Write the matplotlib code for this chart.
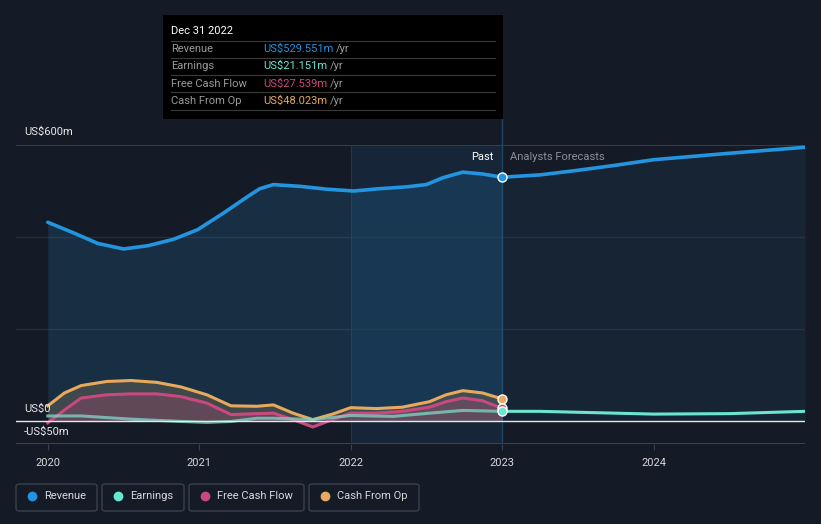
import numpy as np
import matplotlib.pyplot as plt
from matplotlib.patches import FancyBboxPatch, Rectangle
from matplotlib.lines import Line2D

plt.rcParams['font.family'] = ['Roboto', 'DejaVu Sans']

# values (US$m)
revenue_years = np.array([2020.0, 2020.17, 2020.33, 2020.5, 2020.66, 2020.83, 2020.99, 2021.16,
                          2021.32, 2021.4, 2021.45, 2021.49, 2021.53, 2021.67, 2021.84, 2022.02,
                          2022.19, 2022.37, 2022.5, 2022.61, 2022.74, 2022.87, 2023.0])
revenue_past = np.array([432, 409, 386, 374, 381, 395, 416, 452,
                         488, 505, 510, 514, 513, 510, 504, 500,
                         505, 509, 514, 529, 541, 537, 530])

cash_years = np.array([2020.0, 2020.11, 2020.22, 2020.39, 2020.55, 2020.72, 2020.88, 2021.05,
                       2021.21, 2021.38, 2021.49, 2021.62, 2021.75, 2021.88, 2022.0, 2022.17,
                       2022.34, 2022.52, 2022.63, 2022.74, 2022.87, 2023.0])
cfo_past = np.array([33, 61, 77, 86, 88, 84, 74, 57,
                     33, 32, 35, 17, 3, 15, 29, 27,
                     30, 42, 57, 66, 61, 48])
fcf_past = np.array([-4, 24, 50, 57, 59, 59, 53, 39,
                     14, 16, 17, 3, -13, 3, 17, 17,
                     21, 30, 42, 50, 44, 27.5])

earnings_years = np.array([2020.0, 2020.22, 2020.55, 2020.88, 2021.05, 2021.21, 2021.38, 2021.49,
                           2021.75, 2022.0, 2022.28, 2022.52, 2022.74, 2023.0])
earnings_past = np.array([11, 11, 4, -1, -3, -1, 6, 6,
                          3, 12, 10, 17, 23, 21])

forecast_years = np.array([2023.0, 2023.25, 2023.5, 2023.75, 2024.0, 2024.5, 2025.0])
revenue_forecast = np.array([530, 535, 545, 556, 568, 582, 595])
earnings_forecast = np.array([21, 21, 19, 17, 15, 16, 21])

year_ticks = [2020, 2021, 2022, 2023, 2024]

bg = '#151b26'
c_rev = '#2394df'
c_earn = '#6ce5d0'
c_fcf = '#c9487e'
c_cfo = '#e8a95c'

W, H = 821, 524
fig = plt.figure(figsize=(W / 100, H / 100), dpi=100, facecolor=bg)


def fx(px):
    return px / W


def fy(py):
    return 1 - py / H


ax = fig.add_axes([fx(16), fy(444), fx(805) - fx(16), fy(145) - fy(444)])
ax.set_facecolor(bg)
ax.set_xlim(2019.79, 2025.0)
ax.set_ylim(-50, 600)
for s in ax.spines.values():
    s.set_visible(False)
ax.set_yticks([])
ax.set_xticks(year_ticks)
ax.set_xticklabels([str(y) for y in year_ticks])
ax.tick_params(axis='x', colors='#3a404c', labelcolor='#d8d8d8', labelsize=8, length=4, pad=6)

# grid
for v in [200, 400]:
    ax.axhline(v, color='#252d3a', lw=1, zorder=1)
ax.axhline(600, color='#3c424d', lw=1.2, zorder=1)
ax.axhline(-50, color='#3c424d', lw=1.5, zorder=1)
ax.axhline(0, color='#e8e8e8', lw=1, zorder=6)

# highlighted past year
ax.axvspan(2022, 2023, color='#1a4a70', alpha=0.25, lw=0, zorder=0)
ax.axvline(2022, color='#24354a', lw=0.8, zorder=1)
ax.axvline(2023, color='#1d4563', lw=1, zorder=1)
fig.add_artist(Line2D([fx(502), fx(502)], [fy(119), fy(145)], transform=fig.transFigure,
                      color='#1d4563', lw=1))

# revenue
ax.fill_between(revenue_years, revenue_past, 0, color=c_rev, alpha=0.16, lw=0, zorder=2)
ax.fill_between(forecast_years, revenue_forecast, 0, color=c_rev, alpha=0.08, lw=0, zorder=2)
ax.plot(revenue_years, revenue_past, color=c_rev, lw=2.6, zorder=5, solid_capstyle='round')
ax.plot(forecast_years, revenue_forecast, color=c_rev, lw=2.6, zorder=5, solid_capstyle='round')

# cash flows
ax.fill_between(cash_years, cfo_past, 0, color='#8a7a5a', alpha=0.35, lw=0, zorder=3)
ax.fill_between(cash_years, fcf_past, 0, color=c_fcf, alpha=0.25, lw=0, zorder=3)
ax.plot(cash_years, cfo_past, color=c_cfo, lw=2.2, zorder=5, solid_joinstyle='round')
ax.plot(cash_years, fcf_past, color=c_fcf, lw=2.2, zorder=5, solid_joinstyle='round')
ax.plot(earnings_years, earnings_past, color='#7fcfc2', lw=2.2, alpha=0.8, zorder=5)
ax.plot(forecast_years, earnings_forecast, color=c_earn, lw=2.2, zorder=5)

for val, col in [(revenue_past[-1], c_rev), (cfo_past[-1], c_cfo),
                 (fcf_past[-1], c_fcf), (earnings_past[-1], c_earn)]:
    ax.plot([2023.0], [val], 'o', ms=6.5, color=col, mec='white', mew=1, zorder=7)

ax.text(2022.94, 573, 'Past', color='white', fontsize=8, ha='right', va='center')
ax.text(2023.05, 573, 'Analysts Forecasts', color='#8a8f98', fontsize=8, ha='left', va='center')

# y labels
fig.text(fx(24), fy(132), 'US$600m', color='#e8e8e8', fontsize=8, va='center')
fig.text(fx(24), fy(409), 'US$0', color='#e8e8e8', fontsize=8, va='center')
fig.text(fx(24), fy(432), '-US$50m', color='#e8e8e8', fontsize=8, va='center')

# tooltip
fig.add_artist(Rectangle((fx(163), fy(119)), fx(503) - fx(163), fy(15) - fy(119),
                         transform=fig.transFigure, facecolor='black', edgecolor='none', zorder=10))
fig.text(fx(171), fy(31), 'Dec 31 2022', color='white', fontsize=8, va='center', zorder=11)
tip_labels = ['Revenue', 'Earnings', 'Free Cash Flow', 'Cash From Op']
tip_values = ['US$529.551m', 'US$21.151m', 'US$27.539m', 'US$48.023m']
tip_colors = [c_rev, c_earn, c_fcf, c_cfo]
row_y = [49, 66, 84, 101]
for ly in [41, 58, 75, 92, 110]:
    fig.add_artist(Line2D([fx(171), fx(495)], [fy(ly), fy(ly)], transform=fig.transFigure,
                          color='#3a3a3a', lw=0.8, zorder=11))
fig.canvas.draw()
r = fig.canvas.get_renderer()
for lab, val, col, y in zip(tip_labels, tip_values, tip_colors, row_y):
    fig.text(fx(171), fy(y), lab, color='#9a9a9a', fontsize=8, va='center', zorder=11)
    t = fig.text(fx(263), fy(y), val, color=col, fontsize=8, va='center', zorder=11)
    bb = t.get_window_extent(r)
    fig.text(bb.x1 / W + fx(3), fy(y), '/yr', color='#9a9a9a', fontsize=8, va='center', zorder=11)

# legend boxes
legend_names = ['Revenue', 'Earnings', 'Free Cash Flow', 'Cash From Op']
legend_colors = [c_rev, c_earn, c_fcf, c_cfo]
box_x = [(16, 97), (102, 184), (189, 304), (309, 419)]
for name, col, (x0, x1) in zip(legend_names, legend_colors, box_x):
    fig.add_artist(FancyBboxPatch((fx(x0), fy(511)), fx(x1) - fx(x0), fy(484) - fy(511),
                                  boxstyle='round,pad=0,rounding_size=0.004',
                                  transform=fig.transFigure, facecolor='none',
                                  edgecolor='#3a404c', lw=1))
    fig.add_artist(Line2D([fx(x0 + 16)], [fy(496)], marker='o', ms=6, color=col,
                          transform=fig.transFigure))
    fig.text(fx(x0 + 28), fy(496), name, color='#d8d8d8', fontsize=8, va='center')

fig.savefig('out.png', dpi=100, facecolor=bg)
